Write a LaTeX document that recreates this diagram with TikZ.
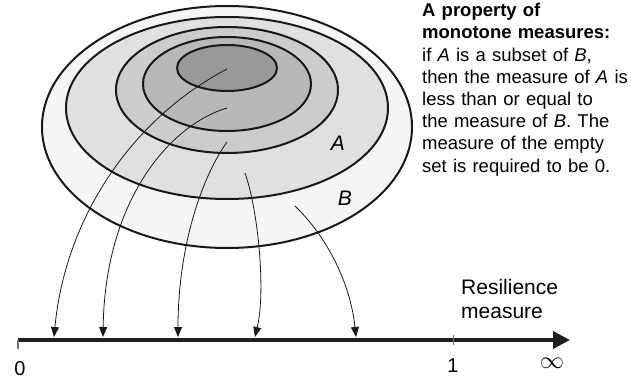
\documentclass[tikz,border=0pt]{standalone}
\usepackage{fontspec}
\setmainfont{Liberation Sans}
\usetikzlibrary{positioning,calc,arrows.meta}

\begin{document}
\begin{tikzpicture}[
  x=1pt, y=-1pt,
  font=\fontsize{18.5}{22.2}\selectfont,
  every node/.style={inner sep=0pt},
  ring/.style={draw=black!90, line width=2pt},
  link/.style={draw=black!90, line width=0.8pt, -{Triangle[length=10pt,width=8pt]}},
  axis/.style={draw=black!88, line width=3.8pt, -{Triangle[length=17pt,width=17pt]}},
  tick/.style={draw=black!55, line width=1.2pt},
  setlbl/.style={font=\itshape\fontsize{21}{24}\selectfont},
  numlbl/.style={font=\fontsize{20}{24}\selectfont},
  note/.style={anchor=north west, align=left, text width=220pt},
]
\useasboundingbox (0,0) rectangle (643,382);

% ----- nested sets, outermost (B) first -----
\draw[ring, fill=black!4]  (227,127) ellipse [x radius=185pt, y radius=121pt];
\draw[ring, fill=black!12] (227,108) ellipse [x radius=161pt, y radius=91pt];
\draw[ring, fill=black!20] (227,90)  ellipse [x radius=111pt, y radius=63pt];
\draw[ring, fill=black!28] (227,84)  ellipse [x radius=84pt,  y radius=47pt];
\draw[ring, fill=black!40] (227,68)  ellipse [x radius=50pt,  y radius=23pt];

% ----- start points inside the sets, end points on the axis -----
\coordinate (s1) at (227,69);
\coordinate (s2) at (227,108);
\coordinate (s3) at (227,142);
\coordinate (s4) at (245,173);
\coordinate (s5) at (295,206);
\coordinate (e1) at (54,337);
\coordinate (e2) at (103,337);
\coordinate (e3) at (178,337);
\coordinate (e4) at (255,337);
\coordinate (e5) at (356,337);

% ----- maps from sets to the measure line -----
\draw[link] (s1) .. controls (130,120) and (65,220) .. (e1);
\draw[link] (s2) .. controls (170,125) and (105,200) .. (e2);
\draw[link] (s3) .. controls (200,180) and (178,250) .. (e3);
\draw[link] (s4) .. controls (258,210) and (266,290) .. (e4);
\draw[link] (s5) .. controls (325,235) and (350,280) .. (e5);

% ----- set labels -----
\node[setlbl] (lblA) at (338,143) {A};
\node[setlbl] (lblB) at (345,198) {B};

% ----- measure axis -----
\coordinate (orig) at (18,340);
\coordinate (tip) at (570,340);
\coordinate (unit) at (453,340);
\draw[axis] (orig) -- (tip);
\draw[tick] (orig) -- ++(0,9);
\draw[tick, line width=0.8pt] ($(unit)+(0,-5)$) -- ++(0,10);

\node[numlbl] (zero) at (20,369) {0};
\node[numlbl] (one) at (453,366) {1};
\node[scale=1.4] (infty) at (552,363) {$\infty$};
\node[anchor=north west, align=left, font=\fontsize{21}{24}\selectfont]
  (reslbl) at (461,279) {Resilience\\measure};

% ----- property text -----
\node[note] (prop) at (422,3)
  {\textbf{A property of}\\
   \textbf{monotone measures:}\\
   if \textit{A} is a subset of \textit{B},\\
   then the measure of \textit{A} is\\
   less than or equal to\\
   the measure of \textit{B}. The\\
   measure of the empty\\
   set is required to be 0.};

\end{tikzpicture}
\end{document}
